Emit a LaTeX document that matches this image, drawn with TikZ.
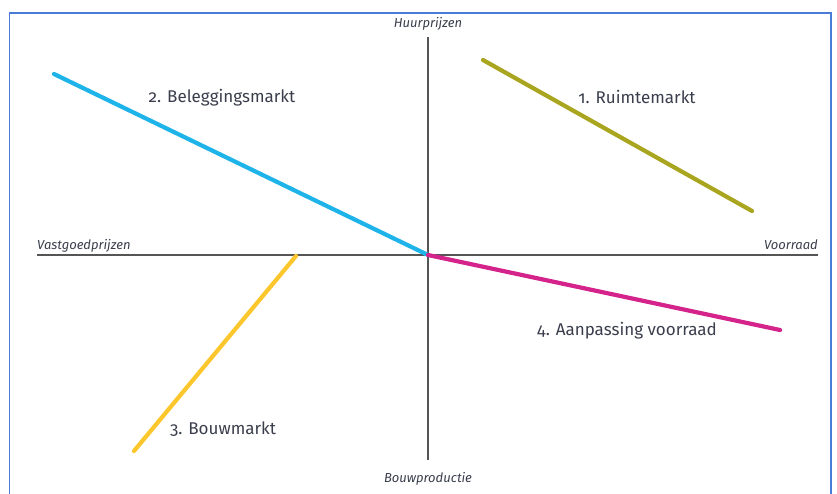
\documentclass[tikz,border=0pt]{standalone}
\usepackage{fontspec}
\setmainfont{Fira Sans}[Numbers=OldStyle]
\usepackage{xcolor}
\definecolor{cFrame}{HTML}{4A7BD6}
\definecolor{cAxis}{HTML}{555555}
\definecolor{cText}{HTML}{3A3E4C}
\definecolor{cRuimte}{HTML}{A9A51E}
\definecolor{cBeleg}{HTML}{1EB4EA}
\definecolor{cBouw}{HTML}{FCC72C}
\definecolor{cVoorraad}{HTML}{D4248C}
\usetikzlibrary{calc}
\tikzset{
  axis-line/.style={draw=cAxis,line width=1.5pt},
  axis-label/.style={font=\fontsize{13}{15}\selectfont\itshape,text=cText,inner sep=0pt},
  market-line/.style={line width=4.2pt,line cap=round},
  market-label/.style={font=\fontsize{17}{20}\selectfont,text=cText,inner sep=0pt},
}

\begin{document}
\begin{tikzpicture}[x=1pt,y=-1pt]
  \useasboundingbox (0,0) rectangle (837,494);
  % kader
  \draw[cFrame,line width=1.5pt] (9.5,520) -- (9.5,13) -- (831,13) -- (831,520);

  % assen
  \coordinate (origin) at (428,255);
  \coordinate (x-min) at (37,255);
  \coordinate (x-max) at (818,255);
  \coordinate (y-min) at (428,37);
  \coordinate (y-max) at (428,460);
  \draw[axis-line] (x-min) -- (x-max);
  \draw[axis-line] (y-min) -- (y-max);
  \node[axis-label,anchor=south] (huur) at (428,31) {Huurprijzen};
  \node[axis-label,anchor=base west] (vastgoed) at (37,249) {Vastgoedprijzen};
  \node[axis-label,anchor=base east] (voorraad) at (818,249) {Voorraad};
  \node[axis-label,anchor=north] (bouwprod) at (428,472) {Bouwproductie};

  % kwadranten
  \coordinate (ruimte-a) at (483,60);
  \coordinate (ruimte-b) at (752,211);
  \coordinate (beleg-a)  at (54,74);
  \coordinate (bouw-a)   at (296,256);
  \coordinate (bouw-b)   at (134,451);
  \coordinate (aanp-b)   at (780,330);
  \draw[market-line,cRuimte]   (ruimte-a) -- (ruimte-b);
  \draw[market-line,cBeleg]    (beleg-a) -- (origin);
  \draw[market-line,cBouw]     (bouw-a) -- (bouw-b);
  \draw[market-line,cVoorraad] (origin) -- (aanp-b);

  \node[market-label] (ruimte) at (637,97)  {1. Ruimtemarkt};
  \node[market-label] (beleg)  at (222,98)  {2. Beleggingsmarkt};
  \node[market-label] (bouw)   at (223,429) {3. Bouwmarkt};
  \node[market-label] (aanp)   at (627,331) {4. Aanpassing voorraad};
\end{tikzpicture}
\end{document}
